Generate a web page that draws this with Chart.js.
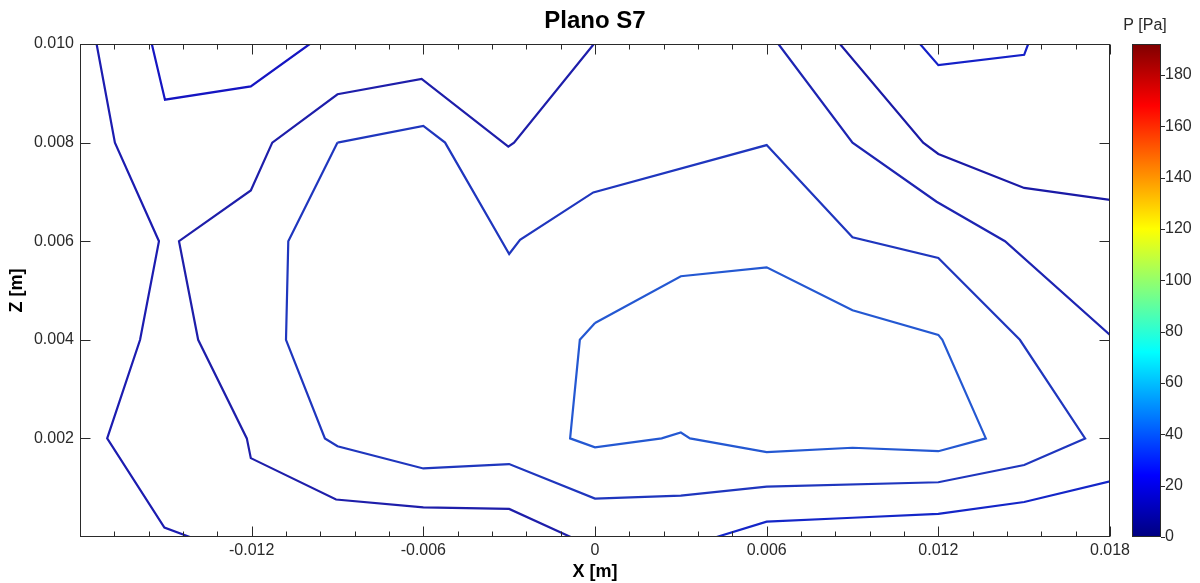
<!DOCTYPE html>
<html>
<head>
<meta charset="utf-8">
<title>Plano S7</title>
<script src="https://cdn.jsdelivr.net/npm/chart.js@4/dist/chart.umd.min.js"></script>
<style>
  html, body { margin: 0; padding: 0; background: #ffffff; }
  canvas { display: block; }
</style>
</head>
<body>
<canvas id="chart" width="1200" height="583"></canvas>
<script>
// ---- Pressure contour lines in plane S7 (x and z in metres) ----
const contourA_x = [-0.01742, -0.01678, -0.01524, -0.01590, -0.01705, -0.01505, -0.01416];
const contourA_z = [0.0100, 0.0080, 0.0060, 0.0040, 0.0020, 0.00019, 0.0];

const contourB_x = [-0.01549, -0.01503, -0.01203, -0.00997];
const contourB_z = [0.0100, 0.00887, 0.00914, 0.0100];

const contourC_x = [-0.00004, -0.00283, -0.00303, -0.00606, -0.00900, -0.01128, -0.01203, -0.01454,
                    -0.01387, -0.01217, -0.01203, -0.00905, -0.00600, -0.00300, -0.00085];
const contourC_z = [0.0100, 0.0080, 0.00792, 0.00929, 0.00898, 0.0080, 0.00703, 0.0060,
                    0.0040, 0.0020, 0.00160, 0.00076, 0.00060, 0.00057, 0.0];

const contourE_x = [-0.00900, -0.01072, -0.01080, -0.00944, -0.00900, -0.00600, -0.00300, 0.00000,
                    0.00300, 0.00600, 0.01200, 0.01500, 0.01713, 0.01485, 0.01200, 0.00900,
                    0.00600, -0.00006, -0.00262, -0.00300, -0.00524, -0.00600, -0.00900];
const contourE_z = [0.0080, 0.0060, 0.0040, 0.0020, 0.00184, 0.00139, 0.00148, 0.00078,
                    0.00084, 0.00102, 0.00111, 0.00146, 0.0020, 0.0040, 0.00566, 0.00608,
                    0.00795, 0.00699, 0.00603, 0.00574, 0.0080, 0.00834, 0.0080];

const contourH_x = [0.0, 0.003, 0.006, 0.009, 0.012, 0.01214, 0.01366, 0.012, 0.009,
                    0.006, 0.00332, 0.003, 0.00233, 0.0, -0.00087, -0.00053, 0.0];
const contourH_z = [0.00434, 0.00529, 0.00547, 0.00460, 0.00410, 0.0040, 0.0020, 0.00174, 0.00181,
                    0.00172, 0.0020, 0.00212, 0.0020, 0.00182, 0.0020, 0.0040, 0.00434];

const contourF_x = [0.00856, 0.01147, 0.012, 0.015, 0.018];
const contourF_z = [0.0100, 0.0080, 0.00777, 0.00708, 0.00684];

const contourG_x = [0.00641, 0.009, 0.01194, 0.01433, 0.018];
const contourG_z = [0.0100, 0.0080, 0.00680, 0.0060, 0.00410];

const contourJ_x = [0.00425, 0.006, 0.009, 0.012, 0.015, 0.018];
const contourJ_z = [0.0, 0.00031, 0.00039, 0.00047, 0.00071, 0.00113];

const contourK_x = [0.01136, 0.012, 0.015, 0.01514];
const contourK_z = [0.0100, 0.00957, 0.00978, 0.0100];

// ---- Axes ----
const xRange = [-0.018, 0.018];
const zRange = [0.0, 0.010];
const xLabelValues = [-0.012, -0.006, 0, 0.006, 0.012, 0.018];
const zLabelValues = [0.002, 0.004, 0.006, 0.008, 0.010];
const pressureRange = [0, 192];
const pressureTicks = [0, 20, 40, 60, 80, 100, 120, 140, 160, 180];

const titleText = 'Plano S7';
const xTitle = 'X [m]';
const zTitle = 'Z [m]';
const barTitle = 'P [Pa]';

const FONT = '"Liberation Sans", Arial, Helvetica, sans-serif';
const LABEL_COLOR = '#2a2a2a';
const FRAME_COLOR = '#2a2a2a';

function toPoints(xs, zs) {
  return xs.map((v, i) => ({ x: v, y: zs[i] }));
}
function contour(xs, zs, color) {
  return {
    data: toPoints(xs, zs),
    showLine: true,
    borderColor: color,
    borderWidth: 2.2,
    pointRadius: 0,
    pointHoverRadius: 0,
    fill: false,
    tension: 0
  };
}
function near(a, b) { return Math.abs(a - b) < 1e-9; }
function isLabelled(v, list) { return list.some(l => near(l, v)); }

// MATLAB-style jet colour map
function jet(t) {
  const c = v => Math.max(0, Math.min(1, v));
  const r = c(1.5 - Math.abs(4 * t - 3));
  const g = c(1.5 - Math.abs(4 * t - 2));
  const b = c(1.5 - Math.abs(4 * t - 1));
  return `rgb(${Math.round(r * 255)},${Math.round(g * 255)},${Math.round(b * 255)})`;
}

// Box frame, inward tick marks and the pressure colour bar
const framePlugin = {
  id: 'frameAndColorbar',
  afterDatasetsDraw(chart) {
    const { ctx, chartArea: a, scales } = chart;
    const xs = scales.x, ys = scales.y, ps = scales.p;
    ctx.save();
    ctx.strokeStyle = FRAME_COLOR;
    ctx.lineWidth = 1;
    const L = Math.round(a.left) + 0.5, R = Math.round(a.right) - 0.5;
    const T = Math.round(a.top) + 0.5, B = Math.round(a.bottom) - 0.5;
    ctx.strokeRect(L, T, R - L, B - T);

    ctx.beginPath();
    xs.ticks.forEach(t => {
      const px = Math.round(xs.getPixelForValue(t.value)) + 0.5;
      const len = isLabelled(t.value, xLabelValues) || near(t.value, xRange[0]) ? 10 : 5;
      ctx.moveTo(px, B); ctx.lineTo(px, B - len);
      ctx.moveTo(px, T); ctx.lineTo(px, T + len);
    });
    zLabelValues.forEach(v => {
      const py = Math.round(ys.getPixelForValue(v)) + 0.5;
      ctx.moveTo(L, py); ctx.lineTo(L + 10, py);
      ctx.moveTo(R, py); ctx.lineTo(R - 10, py);
    });
    ctx.stroke();

    // colour bar
    const bx = 1132, bw = 29;
    const yTop = ps.getPixelForValue(pressureRange[1]);
    const yBot = ps.getPixelForValue(pressureRange[0]);
    const grad = ctx.createLinearGradient(0, yBot, 0, yTop);
    for (let i = 0; i <= 64; i++) grad.addColorStop(i / 64, jet(i / 64));
    ctx.fillStyle = grad;
    ctx.fillRect(bx, yTop, bw, yBot - yTop);
    ctx.strokeStyle = FRAME_COLOR;
    ctx.strokeRect(bx + 0.5, Math.round(yTop) + 0.5, bw - 1, Math.round(yBot - yTop) - 1);
    ctx.beginPath();
    pressureTicks.forEach(v => {
      const py = Math.round(ps.getPixelForValue(v)) + 0.5;
      ctx.moveTo(bx + bw, py); ctx.lineTo(bx + bw + 4, py);
    });
    ctx.stroke();

    ctx.fillStyle = LABEL_COLOR;
    ctx.font = `16px ${FONT}`;
    ctx.textAlign = 'center';
    ctx.textBaseline = 'middle';
    ctx.fillText(barTitle, 1145, 26);
    ctx.restore();
  }
};

new Chart(document.getElementById('chart'), {
  type: 'scatter',
  data: {
    datasets: [
      contour(contourA_x, contourA_z, '#1c1cb0'),
      contour(contourB_x, contourB_z, '#1515c2'),
      contour(contourC_x, contourC_z, '#1e1eaa'),
      contour(contourE_x, contourE_z, '#1f36be'),
      contour(contourH_x, contourH_z, '#2458d2'),
      contour(contourF_x, contourF_z, '#1a1aa6'),
      contour(contourG_x, contourG_z, '#1d24b2'),
      contour(contourJ_x, contourJ_z, '#1426c8'),
      contour(contourK_x, contourK_z, '#1420c8')
    ]
  },
  options: {
    responsive: false,
    animation: false,
    events: [],
    layout: { padding: 0 },
    plugins: {
      legend: { display: false },
      tooltip: { enabled: false },
      title: {
        display: true,
        text: titleText,
        fullSize: false,
        color: '#000000',
        font: { family: FONT, size: 24, weight: 'bold', lineHeight: 1.2 },
        padding: { top: 7, bottom: 8.2 }
      }
    },
    scales: {
      x: {
        type: 'linear',
        position: 'bottom',
        min: xRange[0],
        max: xRange[1],
        afterFit(s) { s.height = 46; },
        grid: { display: false, drawTicks: false },
        border: { display: false },
        ticks: {
          stepSize: 0.0012,
          autoSkip: false,
          maxRotation: 0,
          padding: 4,
          color: LABEL_COLOR,
          font: { family: FONT, size: 16 },
          callback(v) {
            if (!isLabelled(v, xLabelValues)) return '';
            return near(v, 0) ? '0' : v.toFixed(3);
          }
        },
        title: {
          display: true,
          text: xTitle,
          color: '#000000',
          font: { family: FONT, size: 18, weight: 'bold' },
          padding: { top: 0, bottom: 0 }
        }
      },
      y: {
        type: 'linear',
        position: 'left',
        min: zRange[0],
        max: zRange[1],
        afterFit(s) { s.width = 80; },
        grid: { display: false, drawTicks: false },
        border: { display: false },
        ticks: {
          stepSize: 0.002,
          padding: 6,
          color: LABEL_COLOR,
          font: { family: FONT, size: 16 },
          callback(v) { return isLabelled(v, zLabelValues) ? v.toFixed(3) : ''; }
        },
        title: {
          display: true,
          text: zTitle,
          color: '#000000',
          font: { family: FONT, size: 18, weight: 'bold' },
          padding: { top: 6, bottom: 0 }
        }
      },
      p: {
        type: 'linear',
        position: 'right',
        min: pressureRange[0],
        max: pressureRange[1],
        afterFit(s) { s.width = 90; },
        // invisible tick length shifts the labels past the colour bar
        grid: { display: false, drawTicks: true, tickLength: 51 },
        border: { display: false },
        ticks: {
          stepSize: 20,
          padding: 4,
          color: LABEL_COLOR,
          font: { family: FONT, size: 16 },
          callback(v) { return pressureTicks.includes(v) ? String(v) : ''; }
        }
      }
    }
  },
  plugins: [framePlugin]
});
</script>
</body>
</html>
